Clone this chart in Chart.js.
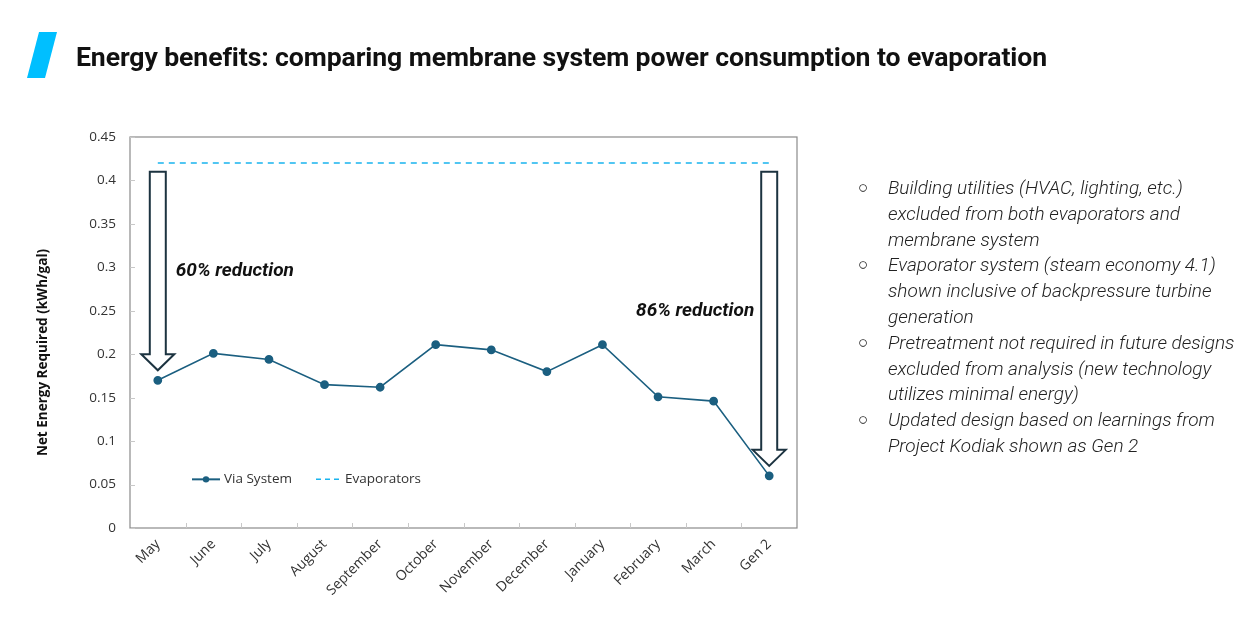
<!DOCTYPE html>
<html>
<head>
<meta charset="utf-8">
<script src="https://cdn.jsdelivr.net/npm/chart.js@4.4.1/dist/chart.umd.min.js"></script>
<style>
  html, body { margin: 0; padding: 0; background: #fff; }
  body { width: 1255px; height: 635px; position: relative; overflow: hidden; }
  #wrap { position: absolute; left: 0; top: 0; width: 1255px; height: 635px; }
  .slash { position: absolute; left: 27px; top: 32px; width: 30px; height: 46px; }
  h1 { position: absolute; left: 76px; top: 41px; margin: 0; font-family: Roboto, sans-serif; font-weight: 700; font-size: 26.6px; line-height: 32px; color: #111; white-space: nowrap; letter-spacing: -0.1px; }
  ul { position: absolute; left: 858px; top: 175px; margin: 0; padding: 0; list-style: none; font-family: Roboto, sans-serif; font-style: italic; font-weight: 300; font-size: 19px; line-height: 25.8px; color: #222; }
  li { position: relative; padding-left: 30px; }
  li .b { position: absolute; left: 0; top: 0; font-style: normal; font-family: "DejaVu Sans", sans-serif; font-size: 17px; }
</style>
</head>
<body>
<div id="wrap"><canvas id="c" width="1255" height="635"></canvas></div>
<svg class="slash" viewBox="0 0 30 46"><polygon points="12,0 30,0 18,46 0,46" fill="#00bfff"/></svg>
<h1>Energy benefits: comparing membrane system power consumption to evaporation</h1>
<ul>
  <li><span class="b">○</span>Building utilities (HVAC, lighting, etc.)<br>excluded from both evaporators and<br>membrane system</li>
  <li><span class="b">○</span>Evaporator system (steam economy 4.1)<br>shown inclusive of backpressure turbine<br>generation</li>
  <li><span class="b">○</span>Pretreatment not required in future designs<br>excluded from analysis (new technology<br>utilizes minimal energy)</li>
  <li><span class="b">○</span>Updated design based on learnings from<br>Project Kodiak shown as Gen 2</li>
</ul>
<script>
const categories = ["May","June","July","August","September","October","November","December","January","February","March","Gen 2"];
const viaSystem = [0.170, 0.201, 0.194, 0.165, 0.162, 0.211, 0.205, 0.180, 0.211, 0.151, 0.146, 0.060];
const evaporators = [0.42, 0.42, 0.42, 0.42, 0.42, 0.42, 0.42, 0.42, 0.42, 0.42, 0.42, 0.42];
const yTicks = [0, 0.05, 0.1, 0.15, 0.2, 0.25, 0.3, 0.35, 0.4, 0.45];
const yTitle = "Net Energy Required (kWh/gal)";
const reductionLabels = ["60% reduction", "86% reduction"];
const arrowIndexes = [0, 11];
const arrowTop = 0.41;

const LINE_COLOR = "#1b5f80";
const DASH_COLOR = "#19b4ee";
const ARROW_COLOR = "#1c3340";
const TICK_FONT = "'Open Sans', sans-serif";

const extras = {
  id: "extras",
  afterDraw(chart) {
    const {ctx, chartArea: a, scales: {x, y}} = chart;
    ctx.save();
    // frame
    ctx.strokeStyle = "#8a8a8a";
    ctx.lineWidth = 1.2;
    ctx.strokeRect(a.left, a.top, a.right - a.left, a.bottom - a.top);
    // inner tick marks
    ctx.strokeStyle = "#c8c8c8";
    ctx.lineWidth = 1;
    yTicks.forEach(v => {
      const py = Math.round(y.getPixelForValue(v)) + 0.5;
      ctx.beginPath(); ctx.moveTo(a.left, py); ctx.lineTo(a.left + 5, py); ctx.stroke();
    });
    const step = (a.right - a.left) / categories.length;
    for (let i = 1; i < categories.length; i++) {
      const px = Math.round(a.left + step * i) + 0.5;
      ctx.beginPath(); ctx.moveTo(px, a.bottom); ctx.lineTo(px, a.bottom - 5); ctx.stroke();
    }
    // y title
    ctx.save();
    ctx.translate(43, (a.top + a.bottom) / 2 + 20);
    ctx.rotate(-Math.PI / 2);
    ctx.fillStyle = "#111";
    ctx.font = "bold 13.5px " + TICK_FONT;
    ctx.textAlign = "center";
    ctx.textBaseline = "middle";
    ctx.fillText(yTitle, 0, 0);
    ctx.restore();
    // arrows
    arrowIndexes.forEach((idx) => {
      const cx = x.getPixelForValue(idx);
      const top = y.getPixelForValue(arrowTop);
      const tip = y.getPixelForValue(viaSystem[idx]) - 10;
      const sw = 8, hw = 16.5, hh = 16;
      ctx.beginPath();
      ctx.moveTo(cx - sw, top);
      ctx.lineTo(cx + sw, top);
      ctx.lineTo(cx + sw, tip - hh);
      ctx.lineTo(cx + hw, tip - hh);
      ctx.lineTo(cx, tip);
      ctx.lineTo(cx - hw, tip - hh);
      ctx.lineTo(cx - sw, tip - hh);
      ctx.closePath();
      ctx.fillStyle = "#fff";
      ctx.fill();
      ctx.strokeStyle = ARROW_COLOR;
      ctx.lineWidth = 2;
      ctx.stroke();
    });
    // reduction labels
    ctx.fillStyle = "#111";
    ctx.font = "italic 700 19px Roboto, sans-serif";
    ctx.textBaseline = "middle";
    ctx.textAlign = "left";
    ctx.fillText(reductionLabels[0], x.getPixelForValue(arrowIndexes[0]) + 18, y.getPixelForValue(0.296));
    ctx.textAlign = "right";
    ctx.fillText(reductionLabels[1], x.getPixelForValue(arrowIndexes[1]) - 15, y.getPixelForValue(0.249));
    // legend
    const ly = y.getPixelForValue(0.056);
    const lx = a.left + 62;
    ctx.strokeStyle = LINE_COLOR; ctx.lineWidth = 2; ctx.setLineDash([]);
    ctx.beginPath(); ctx.moveTo(lx, ly); ctx.lineTo(lx + 28, ly); ctx.stroke();
    ctx.fillStyle = LINE_COLOR;
    ctx.beginPath(); ctx.arc(lx + 14, ly, 3.2, 0, Math.PI * 2); ctx.fill();
    ctx.fillStyle = "#333";
    ctx.font = "13.5px " + TICK_FONT;
    ctx.textAlign = "left";
    ctx.fillText(chart.data.datasets[0].label, lx + 32, ly);
    const lx2 = lx + 124;
    ctx.strokeStyle = DASH_COLOR; ctx.lineWidth = 1.5; ctx.setLineDash([5, 4]);
    ctx.beginPath(); ctx.moveTo(lx2, ly); ctx.lineTo(lx2 + 27, ly); ctx.stroke();
    ctx.setLineDash([]);
    ctx.fillText(chart.data.datasets[1].label, lx2 + 29, ly);
    ctx.restore();
  }
};

new Chart(document.getElementById("c"), {
  type: "line",
  data: {
    labels: categories,
    datasets: [
      { label: "Via System", data: viaSystem, borderColor: LINE_COLOR, backgroundColor: LINE_COLOR, borderWidth: 1.6, pointRadius: 3.6, pointHoverRadius: 3.6, tension: 0 },
      { label: "Evaporators", data: evaporators, borderColor: DASH_COLOR, borderWidth: 1.5, borderDash: [6, 5], pointRadius: 0, tension: 0 }
    ]
  },
  options: {
    responsive: false,
    animation: false,
    events: [],
    layout: { padding: { left: 0, right: 458, top: 137, bottom: 0 } },
    plugins: { legend: { display: false }, tooltip: { enabled: false } },
    scales: {
      x: {
        type: "category",
        offset: true,
        grid: { display: false, drawTicks: false },
        border: { display: false },
        ticks: { color: "#333", font: { family: TICK_FONT, size: 14 }, maxRotation: 45, minRotation: 45, padding: 8 },
        afterFit(s) { s.height = 107; }
      },
      y: {
        min: 0, max: 0.45,
        afterBuildTicks(s) { s.ticks = yTicks.map(v => ({ value: v })); },
        grid: { display: false, drawTicks: false },
        border: { display: false },
        ticks: { color: "#333", font: { family: TICK_FONT, size: 13.5 }, padding: 14, callback: v => String(+v.toFixed(2)) },
        afterFit(s) { s.width = 130; }
      }
    }
  },
  plugins: [extras]
});
</script>
</body>
</html>
